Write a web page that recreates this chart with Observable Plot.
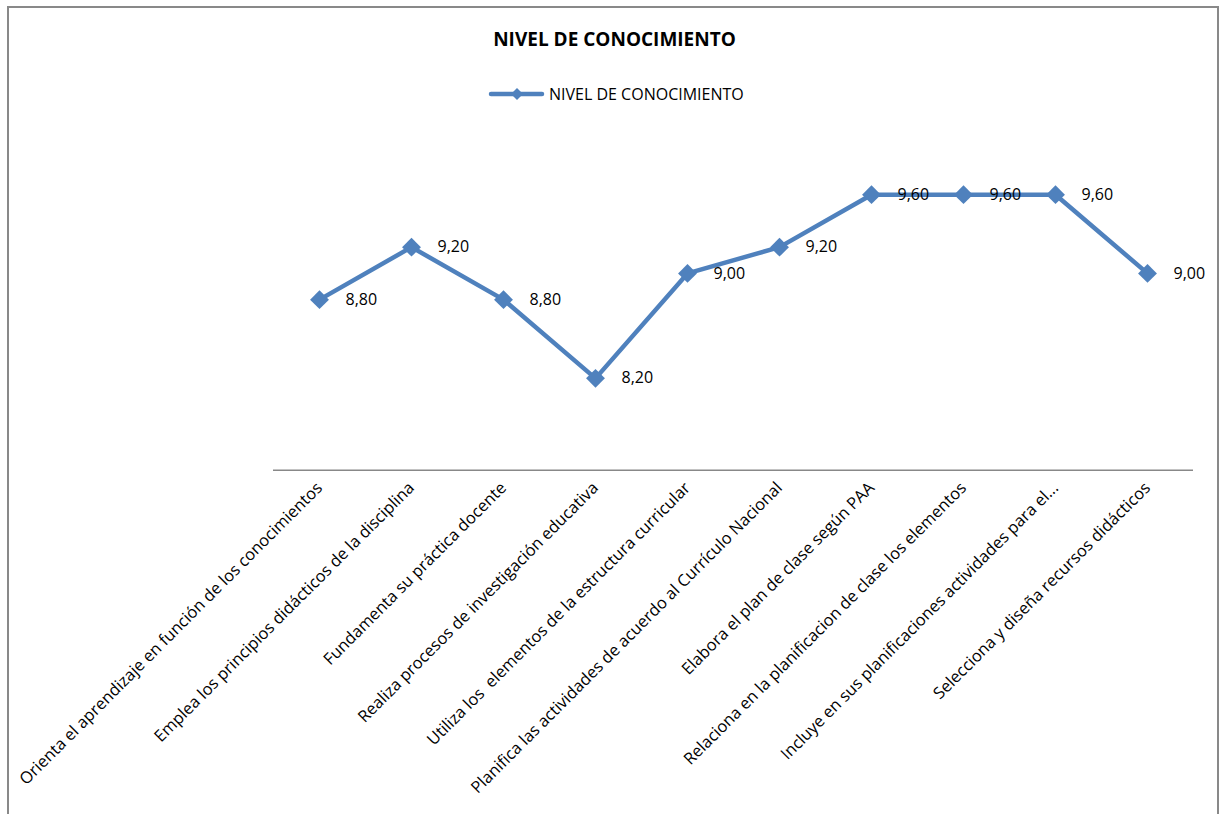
<!DOCTYPE html>
<html><head><meta charset="utf-8">
<script src="https://cdn.jsdelivr.net/npm/d3@7"></script>
<script src="https://cdn.jsdelivr.net/npm/@observablehq/plot@0.6"></script>
<style>
body{margin:0;background:#fff;font-family:"Open Sans",sans-serif;overflow:hidden;}
#frame{position:absolute;left:7px;top:6px;width:1212px;height:900px;border:2px solid #898989;box-sizing:border-box;}
#title{position:absolute;left:7px;width:1215px;text-align:center;top:29.8px;font-size:19px;font-weight:bold;line-height:19px;color:#000;z-index:2;}
#legsym{position:absolute;left:487px;top:84px;z-index:2;}
#legtxt{position:absolute;left:549px;top:85.8px;font-size:16px;line-height:16px;color:#000;z-index:2;white-space:nowrap;}
#chart{position:absolute;left:0;top:0;z-index:1;}
</style></head>
<body>
<div id="frame"></div>
<div id="title"></div>
<svg id="legsym" width="60" height="20"><line x1="4" y1="10" x2="55" y2="10" stroke="#4f81bd" stroke-width="4.5" stroke-linecap="round"/><path d="M30,4 L36,10 L30,16 L24,10 Z" fill="#4f81bd"/></svg>
<div id="legtxt"></div>
<div id="chart"></div>
<script>
const chartTitle = "NIVEL DE CONOCIMIENTO";
const seriesName = "NIVEL DE CONOCIMIENTO";
const categories = [
  "Orienta el aprendizaje en función de los conocimientos",
  "Emplea los principios didácticos de la disciplina",
  "Fundamenta su práctica docente",
  "Realiza procesos de investigación educativa",
  "Utiliza los  elementos de la estructura curricular",
  "Planifica las actividades de acuerdo al Currículo Nacional",
  "Elabora el plan de clase según PAA",
  "Relaciona en la planificacion de clase los elementos",
  "Incluye en sus planificaciones actividades para el...",
  "Selecciona y diseña recursos didácticos"
];
const values = [8.8, 9.2, 8.8, 8.2, 9.0, 9.2, 9.6, 9.6, 9.6, 9.0];
const yDomain = [7.5, 10];

document.getElementById("title").textContent = chartTitle;
document.getElementById("legtxt").textContent = seriesName;

const data = categories.map((c, i) => ({c, v: values[i]}));
const fmt = v => v.toFixed(2).replace(".", ",");

const chart = Plot.plot({
  width: 1223, height: 814,
  marginTop: 141.7, marginBottom: 344.3, marginLeft: 273, marginRight: 30,
  style: {fontFamily: "'Open Sans', sans-serif", fontSize: "16px", background: "transparent", overflow: "visible", color: "#000"},
  x: {type: "point", domain: categories, padding: 0.5, label: null},
  y: {domain: yDomain, axis: null},
  marks: [
    Plot.ruleY([yDomain[0]], {stroke: "#888", strokeWidth: 1.5}),
    Plot.axisX({tickRotate: -45, tickSize: 0, tickPadding: 15, fontSize: 16.4, label: null, fill: "#000"}),
    Plot.line(data, {x: "c", y: "v", stroke: "#4f81bd", strokeWidth: 4.5}),
    Plot.dot(data, {x: "c", y: "v", symbol: "diamond2", r: 8.5, fill: "#4f81bd", stroke: null}),
    Plot.text(data, {x: "c", y: "v", text: d => fmt(d.v), textAnchor: "start", dx: 26, fontSize: 16, fill: "#000"})
  ]
});
document.getElementById("chart").appendChild(chart);
</script>
</body></html>
